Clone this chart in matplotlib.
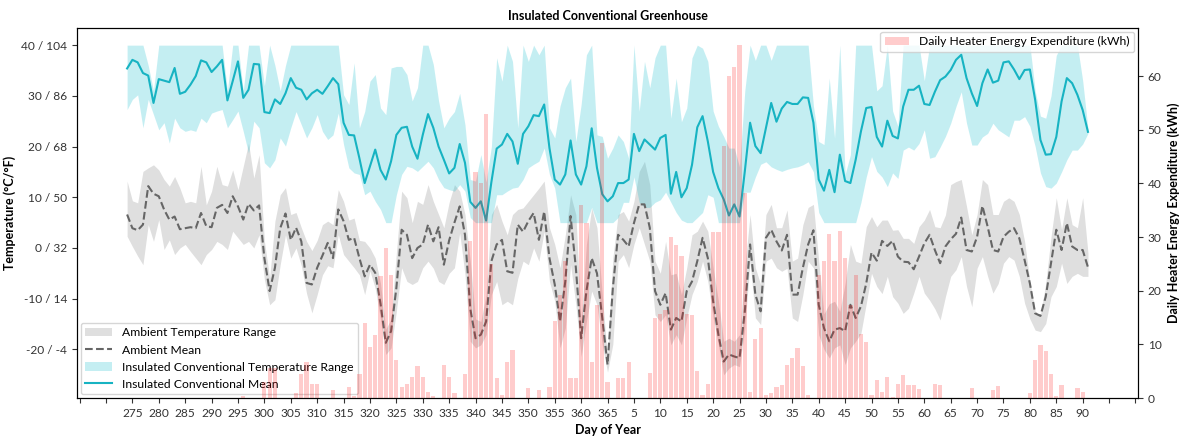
import numpy as np
import matplotlib
matplotlib.use("Agg")
import matplotlib.pyplot as plt
from matplotlib.ticker import MultipleLocator, FuncFormatter

plt.rcParams['font.family'] = ['Lato', 'DejaVu Sans']

# day index: 274 = Oct 1st, values past 365 wrap into the next year
first_day = 274
n_days = 183

gh_mean = [
    35.4, 37.1, 36.6, 34.5, 34.0, 28.6, 33.3, 33.0, 32.7, 35.5,
    30.4, 30.8, 32.2, 33.9, 37.0, 36.6, 34.7, 35.8, 37.1, 29.1,
    32.9, 36.8, 29.6, 31.2, 36.3, 36.2, 26.8, 26.6, 29.3, 28.4,
    30.5, 33.5, 31.6, 31.2, 29.3, 30.5, 31.2, 30.4, 31.9, 33.5,
    32.3, 24.7, 22.3, 22.2, 17.7, 12.8, 16.1, 19.4, 15.4, 13.5,
    17.1, 22.3, 23.7, 23.9, 20.0, 17.6, 22.3, 26.4, 23.7, 20.0,
    17.4, 14.7, 15.8, 20.5, 16.8, 9.1, 7.9, 9.2, 5.4, 13.0,
    19.6, 20.4, 22.5, 21.0, 16.6, 22.5, 24.0, 26.2, 26.0, 28.3,
    19.7, 13.5, 12.5, 14.5, 21.2, 14.5, 12.5, 16.1, 23.6, 15.8,
    10.6, 9.2, 10.2, 12.8, 12.8, 13.5, 22.5, 19.1, 21.4, 20.4,
    19.4, 21.7, 22.3, 10.7, 15.0, 10.0, 11.8, 16.4, 23.8, 26.0,
    21.0, 15.0, 11.8, 9.6, 6.4, 8.6, 6.2, 15.1, 24.7, 20.1,
    18.7, 23.7, 28.6, 24.9, 27.5, 28.8, 28.4, 28.4, 29.7, 29.6,
    24.7, 13.5, 11.3, 15.4, 11.0, 18.4, 13.2, 12.8, 17.4, 23.0,
    27.6, 27.8, 21.9, 20.0, 25.1, 22.1, 21.6, 27.9, 31.2, 31.2,
    32.0, 28.4, 28.2, 30.8, 33.1, 33.8, 35.1, 37.1, 38.1, 33.5,
    30.5, 28.0, 32.5, 35.2, 32.6, 33.0, 36.6, 36.8, 35.2, 33.3,
    35.1, 35.2, 29.2, 21.3, 18.4, 18.5, 21.9, 28.9, 33.5, 32.5,
    30.2, 27.2, 22.9,
]
gh_min = [
    27.3, 29.3, 30.2, 23.7, 29.3, 26.3, 23.3, 24.7, 20.7, 25.6,
    23.7, 23.0, 23.3, 23.0, 25.6, 24.7, 26.6, 27.0, 27.3, 23.7,
    25.3, 27.0, 23.0, 18.7, 25.0, 23.7, 16.8, 15.8, 17.4, 21.7,
    20.1, 23.7, 26.9, 24.3, 21.7, 23.7, 26.3, 23.0, 21.4, 22.3,
    26.6, 20.4, 15.8, 14.8, 14.5, 10.5, 11.2, 9.2, 7.6, 5.0,
    5.0, 10.5, 14.5, 16.1, 15.8, 15.1, 16.1, 17.1, 15.8, 13.5,
    11.9, 11.5, 11.2, 12.5, 11.2, 6.0, 5.0, 5.0, 5.0, 5.0,
    10.5, 10.5, 11.2, 11.8, 12.0, 13.5, 15.8, 16.5, 17.1, 19.7,
    14.5, 11.8, 5.0, 5.0, 5.0, 5.0, 5.0, 5.0, 8.0, 5.0,
    5.0, 5.0, 5.0, 6.0, 9.0, 9.0, 14.0, 9.0, 8.0, 8.0,
    9.0, 9.5, 11.0, 9.0, 7.0, 5.5, 5.0, 5.0, 6.0, 7.0,
    10.5, 10.0, 5.0, 5.0, 5.0, 5.0, 5.0, 11.0, 11.0, 14.0,
    16.5, 17.0, 16.0, 15.5, 15.1, 15.5, 15.8, 16.0, 16.4, 17.0,
    15.0, 7.0, 5.0, 5.0, 5.0, 5.0, 5.0, 5.0, 5.0, 9.0,
    14.0, 18.0, 15.1, 14.0, 12.1, 14.8, 13.7, 19.3, 19.9, 19.3,
    20.6, 23.3, 17.7, 18.0, 19.9, 22.0, 24.6, 27.9, 30.8, 24.6,
    20.3, 20.3, 21.9, 22.6, 24.6, 23.3, 22.6, 21.9, 25.2, 25.2,
    25.9, 24.0, 20.0, 14.8, 12.1, 11.8, 12.8, 15.0, 17.4, 19.3,
    19.3, 20.5, 22.6,
]
gh_max = [
    40, 40, 40, 40, 36, 31, 40, 40, 40, 40,
    40, 40, 40, 40, 40, 40, 40, 40, 40, 31,
    40, 40, 31, 40, 40, 40, 32, 40, 36, 31,
    36, 40, 40, 40, 40, 40, 40, 40, 40, 40,
    40, 30.2, 28.3, 36.5, 23.7, 26.9, 32.9, 34.2, 27.6, 26.3,
    35.5, 35.8, 35.8, 34.2, 29.0, 31.6, 40, 40, 36.2, 29.0,
    23.7, 25.6, 26.9, 30.5, 24.3, 13.5, 13.2, 18.4, 13.0, 20.0,
    37.5, 32.9, 40, 36.8, 23.7, 40, 36.8, 40, 38.1, 40,
    23.7, 21.7, 28.0, 31.6, 33.5, 21.0, 28.3, 38.1, 40, 22.3,
    22.0, 17.7, 19.7, 22.3, 21.0, 17.7, 40, 27.0, 36.8, 31.6,
    37.5, 40, 40, 25.6, 33.5, 24.9, 27.6, 37.5, 40, 39.4,
    36.8, 27.0, 24.0, 22.0, 19.7, 19.7, 16.0, 31.0, 40, 37.0,
    40, 40, 37.0, 40, 40, 40, 40, 40, 40, 40,
    28.0, 21.0, 20.4, 33.5, 21.7, 40, 14.5, 18.4, 40, 40,
    40, 40, 31.0, 32.0, 40, 27.0, 24.0, 40, 40, 40,
    40, 33.0, 40, 40, 40, 40, 40, 40, 40, 40,
    40, 40, 40, 40, 40, 40, 40, 40, 40, 40,
    40, 40, 31.0, 26.0, 25.6, 30.0, 38.0, 40, 40, 40,
    40, 33.0, 23.5,
]
amb_mean = [
    6.6, 3.9, 3.5, 4.6, 12.2, 10.7, 10.2, 7.6, 5.6, 6.2,
    3.7, 3.9, 4.1, 3.9, 6.9, 4.3, 4.1, 7.9, 8.5, 6.9,
    10.2, 8.2, 5.6, 8.7, 7.4, 8.4, -2.0, -8.5, -3.9, 3.9,
    6.8, 1.6, 4.0, 1.3, -6.9, -7.2, -3.9, -1.5, 1.0, -2.0,
    7.6, 5.3, 1.6, 2.0, -2.0, -5.6, -3.3, -4.9, -11.0, -18.7,
    -16.4, -7.9, 3.6, 2.6, -2.0, 0.0, 0.7, 4.6, 1.3, 4.1,
    -3.3, 1.5, 5.0, 8.2, 2.6, -12.0, -17.8, -17.1, -14.5, -2.6,
    0.7, 1.6, -4.6, -4.9, 4.6, 3.2, 5.3, 6.9, 1.6, 7.2,
    -2.0, -7.2, -14.5, -6.6, 6.3, -3.9, -17.8, -8.5, -2.0, -5.0,
    -13.8, -23.0, -8.0, 2.6, 1.6, 0.3, 4.9, 8.6, 8.6, 4.0,
    -8.5, -11.2, -8.9, -16.1, -13.8, -14.5, -8.5, -6.6, -2.6, 2.0,
    -2.0, -10.5, -17.1, -22.4, -21.0, -21.4, -21.7, -12.5, 0.7, -9.2,
    -12.5, 2.0, 3.6, 1.3, -0.5, 2.6, -9.2, -9.2, -3.9, 0.7,
    3.5, -11.2, -15.8, -18.4, -16.1, -15.8, -16.4, -11.2, -13.8, -11.5,
    -7.0, -0.9, -2.5, 1.4, 0.4, 1.4, -1.7, -2.7, -2.8, -4.2,
    -1.7, 0.9, 2.6, -0.4, -3.0, 0.3, 1.7, 2.8, 6.0, -0.4,
    -0.7, 2.2, 8.3, 4.2, -0.4, -0.7, 2.2, 3.2, 3.9, 1.9,
    -2.4, -7.0, -12.9, -13.4, -9.6, -3.0, 3.6, -0.4, 4.9, 0.3,
    -0.4, -0.4, -3.8,
]
amb_min = [
    2.3, 0.3, -1.6, -3.3, 4.6, 1.3, 5.6, -0.3, 1.6, -1.3,
    0.0, 0.7, -0.7, -2.0, -3.3, -1.3, -0.3, 1.3, 0.7, -0.3,
    3.3, 2.0, 0.7, 1.3, 0.0, 2.6, -6.2, -11.2, -10.2, -3.3,
    2.6, -2.0, 0.0, -3.5, -9.0, -12.8, -9.2, -5.3, -3.5, -3.9,
    2.6, -1.3, -2.6, -3.9, -5.3, -9.2, -4.5, -8.0, -14.0, -21.0,
    -19.7, -12.5, -3.9, -6.6, -7.2, -6.6, -3.9, -2.6, -4.0, -6.6,
    -7.2, -5.0, -3.9, 3.0, -5.3, -18.4, -19.7, -19.1, -17.1, -9.2,
    -6.6, -11.2, -10.5, -11.2, -6.0, -2.6, -3.3, 0.0, -2.6, 3.3,
    -6.6, -10.5, -19.7, -15.8, -3.3, -11.2, -21.4, -14.5, -8.5, -11.2,
    -19.1, -24.5, -19.0, -2.6, -1.3, -3.9, 0.7, 4.0, 0.7, -2.6,
    -13.2, -14.5, -13.2, -19.1, -17.1, -19.1, -13.8, -9.2, -6.6, -2.6,
    -6.6, -13.8, -19.1, -25.0, -23.7, -23.0, -23.4, -15.8, -2.6, -13.8,
    -15.1, -2.6, -2.0, -3.9, -4.6, -4.0, -13.8, -14.5, -9.2, -2.6,
    -3.9, -17.1, -20.0, -21.7, -19.7, -19.1, -23.0, -19.7, -18.4, -16.8,
    -11.0, -5.0, -7.6, -9.0, -5.6, -9.6, -10.9, -12.9, -11.9, -8.9,
    -5.6, -8.9, -10.3, -12.0, -14.2, -9.6, -5.6, -4.3, -1.7, -7.6,
    -11.6, -4.0, -1.7, -5.6, -8.9, -7.0, -3.0, -1.7, -2.4, -5.6,
    -10.9, -14.0, -16.2, -16.5, -14.9, -9.6, -7.6, -3.0, -7.0, -5.6,
    -5.0, -5.6, -5.6,
]
amb_max = [
    13.2, 9.3, 8.9, 15.1, 15.8, 16.4, 15.4, 13.5, 12.2, 14.1,
    11.8, 8.9, 9.2, 8.9, 16.1, 8.5, 11.2, 16.1, 12.5, 12.2,
    15.4, 11.5, 16.1, 20.7, 13.8, 18.4, 1.4, -5.9, 5.3, 10.5,
    11.9, 6.6, 7.0, 4.0, 1.3, -0.5, 1.5, 4.6, 5.3, 4.6,
    11.5, 9.2, 5.5, 5.9, 1.5, 1.3, 0.0, -2.0, -7.0, -16.0,
    -14.0, -1.0, 11.2, 9.9, 5.0, 9.2, 8.6, 12.5, 9.2, 6.6,
    4.0, 9.0, 12.5, 11.2, 6.6, -2.6, -14.0, -14.5, -9.2, 6.6,
    8.6, 5.3, 2.6, 6.6, 7.6, 7.9, 9.2, 10.5, 11.8, 13.2,
    4.0, 0.7, -3.9, 2.6, 10.5, 6.6, -14.5, 0.7, 7.9, 4.0,
    -9.2, -21.7, -2.0, 6.6, 7.2, 5.3, 9.2, 15.1, 17.1, 12.5,
    -2.6, -5.0, 1.3, -5.3, -5.0, -9.2, -3.9, 2.6, 3.3, 5.3,
    3.3, -3.9, -10.5, -18.4, -17.8, -18.4, -17.1, -3.9, 6.6, -3.9,
    -7.2, 6.6, 8.6, 4.0, 4.0, 7.5, -2.6, -2.0, 4.6, 8.0,
    8.6, -2.6, -13.0, -11.0, -10.5, -12.5, -7.0, 0.7, -2.6, -3.0,
    4.2, 6.2, 4.2, 5.5, 5.5, 3.5, 3.6, 1.9, 1.9, 0.9,
    4.2, 5.5, 7.6, 4.2, 4.0, 6.5, 12.5, 13.1, 13.5, 8.2,
    2.6, 6.6, 13.5, 12.5, 6.6, 6.6, 9.2, 9.9, 9.2, 6.6,
    1.3, -6.6, -12.5, -13.2, -7.0, 2.2, 9.9, 3.6, 9.9, 4.6,
    4.0, 9.9, -1.0,
]
heater_kwh = [
    0, 0, 0, 0, 0, 0, 0, 0, 0, 0,
    0, 0, 0, 0, 0, 0, 0, 0, 0, 0,
    0, 0, 0.3, 0, 0, 0, 3.0, 5.6, 5.6, 0,
    0, 0, 0.9, 4.4, 6.8, 2.7, 2.7, 0, 0, 1.5,
    0, 0, 2.1, 0.3, 4.4, 14.0, 9.6, 11.8, 22.7, 28.0,
    23.0, 7.1, 2.1, 2.7, 4.0, 5.9, 4.0, 1.2, 0.3, 0,
    6.2, 4.0, 0.9, 0, 4.4, 29.2, 42.2, 40.1, 52.9, 25.0,
    3.8, 0.6, 6.8, 9.0, 0, 0, 1.8, 0, 1.5, 0,
    2.1, 14.3, 19.3, 25.5, 3.8, 3.8, 36.0, 32.6, 6.8, 17.4,
    47.5, 3.0, 0, 3.7, 3.8, 6.8, 0, 0, 0, 4.7,
    14.9, 15.6, 16.5, 30.0, 28.5, 26.4, 15.7, 15.5, 5.0, 0.6,
    2.6, 31.0, 31.0, 46.9, 60.0, 61.8, 65.9, 38.2, 1.2, 11.0,
    13.1, 0.5, 1.0, 2.1, 2.5, 6.2, 7.4, 9.3, 5.9, 0.6,
    0, 23.0, 25.5, 30.5, 25.5, 31.1, 26.1, 17.4, 23.0, 12.0,
    10.5, 0.6, 3.3, 1.2, 3.9, 0.2, 2.6, 4.3, 2.4, 2.4,
    1.6, 0, 0, 2.7, 2.4, 0, 0, 0, 0, 0,
    1.8, 0, 0, 0, 1.5, 2.2, 0, 0, 0, 0,
    0, 0.9, 7.1, 9.8, 8.8, 4.5, 0.4, 2.4, 0, 0,
    1.8, 1.2, 0,
]
temp_ticks = [-20, -10, 0, 10, 20, 30, 40]

days = np.arange(first_day, first_day + n_days)
last_day = days[-1]

gh_color = '#17b3c2'
fs = 9
tick_fs = 8.6

fig = plt.figure(figsize=(11.93, 4.36), dpi=100)
ax1 = fig.add_axes([0.0645, 0.087, 0.8895, 0.849])
ax2 = ax1.twinx()

ax1.fill_between(days, amb_min, amb_max, color='gray', alpha=0.25, linewidth=0,
                 label='Ambient Temperature Range')
ax1.plot(days, amb_mean, color='#666666', linestyle='--', linewidth=1.5, label='Ambient Mean')
ax1.fill_between(days, gh_min, gh_max, color='#17becf', alpha=0.25, linewidth=0,
                 label='Insulated Conventional Temperature Range')
ax1.plot(days, gh_mean, color=gh_color, linewidth=1.5, label='Insulated Conventional Mean')

ax2.bar(days, heater_kwh, width=0.8, color='red', alpha=0.2,
        label='Daily Heater Energy Expenditure (kWh)')

ax1.set_xlim(264.5, 465.5)
ax1.set_ylim(-29.6, 43.4)
ax2.set_ylim(0, 69)

ax1.set_yticks(temp_ticks)
ax1.set_yticklabels([f"{t} / {round(t * 9 / 5 + 32)}" for t in temp_ticks])
ax2.set_yticks(range(0, 61, 10))


def day_label(v, pos):
    d = int(round(v))
    if d < first_day or d > last_day:
        return ''
    return str(d if d <= 365 else d - 365)


ax1.xaxis.set_major_locator(MultipleLocator(5))
ax1.xaxis.set_major_formatter(FuncFormatter(day_label))

for ax in (ax1, ax2):
    ax.tick_params(labelsize=tick_fs, colors='#333333', labelcolor='#333333')

ax1.set_xlabel('Day of Year', fontsize=fs, fontweight='bold')
ax1.set_ylabel('Temperature (°C/°F)', fontsize=fs, fontweight='bold')
ax2.set_ylabel('Daily Heater Energy Expenditure (kWh)', fontsize=fs, fontweight='bold')
ax1.set_title('Insulated Conventional Greenhouse', fontsize=fs, fontweight='bold')

ax1.legend(loc='lower left', fontsize=8.7, handlelength=2.2, borderaxespad=0.3)
ax2.legend(loc='upper right', fontsize=8.7, borderaxespad=0.3)

fig.savefig('out.png', dpi=100)
